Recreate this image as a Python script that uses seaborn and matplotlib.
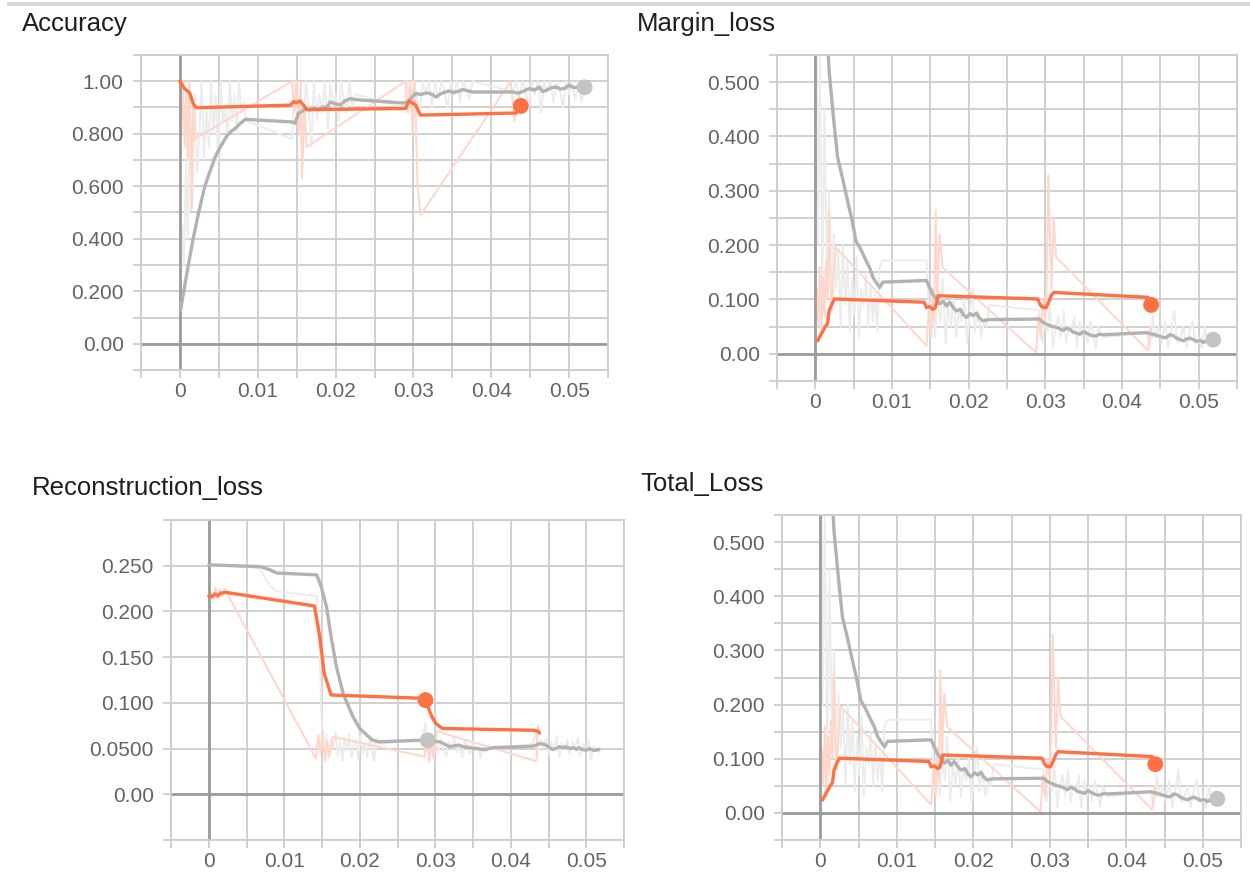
import matplotlib
matplotlib.use("Agg")
import numpy as np
import matplotlib.pyplot as plt
from matplotlib.patches import Rectangle
import seaborn as sns

sns.set_theme(style="white")
plt.rcParams["font.family"] = ["Liberation Sans", "DejaVu Sans"]

# ---------------------------------------------------------------- tick labels
x_tick_labels = ["", "0", "", "0.01", "", "0.02", "", "0.03", "", "0.04", "", "0.05", ""]
acc_ytick_labels = ["", "0.00", "", "0.200", "", "0.400", "", "0.600", "", "0.800", "", "1.00", ""]
loss_ytick_labels = ["", "0.00", "", "0.100", "", "0.200", "", "0.300", "", "0.400", "", "0.500", ""]
rec_ytick_labels = ["", "0.00", "0.0500", "0.100", "0.150", "0.200", "0.250", ""]
titles = ["Accuracy", "Margin_loss", "Reconstruction_loss", "Total_Loss"]

# ---------------------------------------------------------------- Accuracy
acc_gray_smooth_x = [0.0001, 0.0009, 0.0017, 0.0024, 0.0032, 0.0039, 0.0045, 0.0052, 0.0060, 0.0066,
                     0.0071, 0.0078, 0.0084, 0.0144, 0.0148, 0.0152, 0.0157, 0.0161, 0.0167, 0.0172,
                     0.0178, 0.0184, 0.0189, 0.0193, 0.0199, 0.0206, 0.0212, 0.0219, 0.0225, 0.0288,
                     0.0293, 0.0298, 0.0303, 0.0310, 0.0316, 0.0320, 0.0325, 0.0329, 0.0335, 0.0340,
                     0.0346, 0.0352, 0.0358, 0.0363, 0.0368, 0.0372, 0.0376, 0.0428, 0.0434, 0.0440,
                     0.0445, 0.0449, 0.0455, 0.0462, 0.0466, 0.0471, 0.0477, 0.0483, 0.0489, 0.0495,
                     0.0500, 0.0506, 0.0512, 0.0520]
acc_gray_smooth_y = [0.13, 0.27, 0.40, 0.50, 0.60, 0.66, 0.71, 0.75, 0.79, 0.81,
                     0.82, 0.84, 0.855, 0.845, 0.84, 0.877, 0.885, 0.896, 0.89, 0.898,
                     0.892, 0.902, 0.90, 0.921, 0.915, 0.91, 0.925, 0.934, 0.93, 0.917,
                     0.921, 0.94, 0.953, 0.95, 0.955, 0.955, 0.948, 0.94, 0.952, 0.958,
                     0.963, 0.957, 0.962, 0.968, 0.965, 0.962, 0.959, 0.959, 0.955, 0.96,
                     0.968, 0.972, 0.966, 0.978, 0.96, 0.966, 0.975, 0.978, 0.97, 0.974,
                     0.985, 0.976, 0.978, 0.977]
acc_orange_smooth_x = [0.0000, 0.0003, 0.0006, 0.0010, 0.0013, 0.0017, 0.0021, 0.0142, 0.0146, 0.0150,
                       0.0154, 0.0158, 0.0163, 0.0290, 0.0294, 0.0298, 0.0303, 0.0306, 0.0309, 0.0432]
acc_orange_smooth_y = [1.00, 0.985, 0.972, 0.962, 0.953, 0.915, 0.899, 0.909, 0.922, 0.918,
                       0.925, 0.912, 0.892, 0.896, 0.925, 0.918, 0.909, 0.89, 0.871, 0.879]
acc_orange_raw_x = [0.0000, 0.0002, 0.0004, 0.0006, 0.0008, 0.0010, 0.0012, 0.0014, 0.0015, 0.0017,
                    0.0019, 0.0144, 0.0147, 0.0150, 0.0153, 0.0155, 0.0157, 0.0160, 0.0163, 0.0290,
                    0.0293, 0.0296, 0.0299, 0.0302, 0.0305, 0.0309, 0.0425, 0.0430, 0.0436]
acc_orange_raw_y = [1.00, 0.80, 1.00, 0.75, 0.95, 0.70, 1.00, 0.80, 0.51, 0.90,
                    0.78, 1.00, 0.88, 1.00, 0.80, 1.00, 0.63, 0.90, 0.75, 1.00,
                    0.88, 1.00, 0.80, 1.00, 0.62, 0.49, 1.00, 0.85, 0.95]
acc_gray_raw_x = ([0.0000, 0.0003, 0.0005, 0.0008, 0.0010, 0.0013, 0.0016, 0.0019, 0.0022, 0.0025,
                   0.0028, 0.0031, 0.0034, 0.0037, 0.0040, 0.0043, 0.0046, 0.0049, 0.0052, 0.0055,
                   0.0058, 0.0061, 0.0064, 0.0067, 0.0070, 0.0073, 0.0076, 0.0079, 0.0082, 0.0085]
                  + [0.0144, 0.0148, 0.0151, 0.0155, 0.0158, 0.0162, 0.0165, 0.0169, 0.0172, 0.0176,
                     0.0179, 0.0183, 0.0186, 0.0190, 0.0193, 0.0197, 0.0200, 0.0204, 0.0207, 0.0211,
                     0.0214, 0.0218, 0.0221, 0.0225]
                  + [0.0288, 0.0292, 0.0296, 0.0300, 0.0304, 0.0308, 0.0312, 0.0316, 0.0320, 0.0324,
                     0.0328, 0.0332, 0.0336, 0.0340, 0.0344, 0.0348, 0.0352, 0.0356, 0.0360, 0.0364,
                     0.0368, 0.0372, 0.0376]
                  + [0.0428, 0.0432, 0.0436, 0.0440, 0.0444, 0.0448, 0.0452, 0.0456, 0.0460, 0.0464,
                     0.0468, 0.0472, 0.0476, 0.0480, 0.0484, 0.0488, 0.0492, 0.0496, 0.0500, 0.0504,
                     0.0508, 0.0512, 0.0516, 0.0520])
acc_gray_raw_y = ([0.13, 0.45, 0.30, 0.70, 0.40, 0.85, 0.55, 0.95, 0.65, 0.80,
                   1.00, 0.70, 0.90, 0.75, 1.00, 0.80, 0.95, 0.70, 1.00, 0.85,
                   0.90, 0.78, 1.00, 0.85, 0.95, 0.80, 1.00, 0.88, 0.92, 0.85]
                  + [0.78, 1.00, 0.85, 0.95, 0.80, 1.00, 0.90, 0.75, 1.00, 0.85,
                     0.95, 0.88, 1.00, 0.82, 1.00, 0.90, 0.95, 0.85, 1.00, 0.92,
                     0.88, 1.00, 0.90, 0.95]
                  + [0.90, 1.00, 0.92, 1.00, 0.95, 0.88, 1.00, 0.95, 1.00, 0.90,
                     1.00, 0.93, 1.00, 0.96, 0.90, 1.00, 0.95, 1.00, 0.92, 1.00,
                     0.97, 0.93, 1.00]
                  + [0.96, 1.00, 0.93, 1.00, 0.97, 0.90, 1.00, 0.95, 1.00, 0.88,
                     1.00, 0.96, 1.00, 0.92, 1.00, 0.97, 0.90, 1.00, 0.95, 1.00,
                     0.93, 1.00, 0.92, 0.98])
acc_dots_x = [0.0438, 0.0520]
acc_dots_y = [0.906, 0.977]

# ---------------------------------------------------------------- Margin loss
margin_gray_smooth_x = [0.0006, 0.0012, 0.0018, 0.0024, 0.0029, 0.0036, 0.0042, 0.0048, 0.0053, 0.0060,
                        0.0066, 0.0071, 0.0075, 0.0080, 0.0084, 0.0088, 0.0145, 0.0149, 0.0153, 0.0158,
                        0.0162, 0.0167, 0.0171, 0.0175, 0.0180, 0.0184, 0.0189, 0.0193, 0.0197, 0.0202,
                        0.0206, 0.0210, 0.0214, 0.0218, 0.0222, 0.0227, 0.0292, 0.0297, 0.0301, 0.0306,
                        0.0310, 0.0314, 0.0319, 0.0323, 0.0327, 0.0332, 0.0336, 0.0341, 0.0345, 0.0350,
                        0.0354, 0.0358, 0.0362, 0.0366, 0.0371, 0.0375, 0.0432, 0.0437, 0.0441, 0.0445,
                        0.0450, 0.0454, 0.0458, 0.0462, 0.0466, 0.0471, 0.0476, 0.0480, 0.0484, 0.0489,
                        0.0493, 0.0497, 0.0502, 0.0506, 0.0510, 0.0514, 0.0519]
margin_gray_smooth_y = [0.9, 0.68, 0.52, 0.43, 0.362, 0.32, 0.282, 0.245, 0.208, 0.19,
                        0.172, 0.158, 0.141, 0.13, 0.122, 0.132, 0.135, 0.122, 0.11, 0.10,
                        0.092, 0.097, 0.088, 0.095, 0.085, 0.079, 0.082, 0.072, 0.067, 0.074,
                        0.07, 0.075, 0.066, 0.061, 0.062, 0.063, 0.064, 0.058, 0.055, 0.052,
                        0.05, 0.049, 0.046, 0.043, 0.047, 0.045, 0.04, 0.038, 0.036, 0.041,
                        0.038, 0.035, 0.033, 0.033, 0.036, 0.035, 0.039, 0.037, 0.036, 0.034,
                        0.032, 0.03, 0.03, 0.035, 0.034, 0.029, 0.026, 0.024, 0.027, 0.029,
                        0.026, 0.023, 0.025, 0.021, 0.024, 0.022, 0.026]
margin_orange_smooth_x = [0.0003, 0.0007, 0.0010, 0.0013, 0.0016, 0.0018, 0.0021, 0.0025, 0.0142, 0.0145,
                          0.0149, 0.0153, 0.0156, 0.0158, 0.0160, 0.0290, 0.0293, 0.0296, 0.0301, 0.0305,
                          0.0308, 0.0311, 0.0434]
margin_orange_smooth_y = [0.024, 0.035, 0.042, 0.05, 0.056, 0.079, 0.09, 0.101, 0.095, 0.085,
                          0.087, 0.082, 0.084, 0.092, 0.107, 0.101, 0.091, 0.086, 0.085, 0.097,
                          0.108, 0.113, 0.104]
margin_orange_raw_x = [0.0000, 0.0002, 0.0004, 0.0006, 0.0008, 0.0010, 0.0012, 0.0014, 0.0016, 0.0018,
                       0.0020, 0.0022, 0.0024, 0.0027,
                       0.0145, 0.0148, 0.0151, 0.0153, 0.0155, 0.0157, 0.0159, 0.0162, 0.0166,
                       0.0288, 0.0291, 0.0294, 0.0297, 0.0300, 0.0302, 0.0304, 0.0306, 0.0308, 0.0311,
                       0.0314, 0.0434, 0.0437, 0.0440]
margin_orange_raw_y = [0.02, 0.12, 0.05, 0.16, 0.03, 0.14, 0.07, 0.17, 0.10, 0.26,
                       0.12, 0.08, 0.15, 0.196,
                       0.015, 0.08, 0.03, 0.12, 0.06, 0.264, 0.10, 0.22, 0.159,
                       0.002, 0.07, 0.03, 0.10, 0.06, 0.15, 0.33, 0.22, 0.12, 0.25,
                       0.178, 0.006, 0.05, 0.03]
margin_gray_raw_x = ([0.0000, 0.0003, 0.0006, 0.0009, 0.0012, 0.0015, 0.0018, 0.0021, 0.0024, 0.0027,
                      0.0030, 0.0033, 0.0036, 0.0039, 0.0042, 0.0045, 0.0048, 0.0051, 0.0054, 0.0057,
                      0.0060, 0.0063, 0.0066, 0.0069, 0.0072, 0.0075, 0.0078, 0.0081, 0.0084, 0.0088]
                     + [0.0145, 0.0149, 0.0152, 0.0156, 0.0159, 0.0163, 0.0166, 0.0170, 0.0173, 0.0177,
                        0.0180, 0.0184, 0.0187, 0.0191, 0.0194, 0.0198, 0.0201, 0.0205, 0.0208, 0.0212,
                        0.0216, 0.0220, 0.0223, 0.0227]
                     + [0.0292, 0.0296, 0.0299, 0.0303, 0.0306, 0.0310, 0.0313, 0.0317, 0.0320, 0.0324,
                        0.0327, 0.0331, 0.0334, 0.0338, 0.0341, 0.0345, 0.0348, 0.0352, 0.0355, 0.0359,
                        0.0362, 0.0366, 0.0369, 0.0375]
                     + [0.0432, 0.0436, 0.0440, 0.0444, 0.0448, 0.0452, 0.0456, 0.0460, 0.0464, 0.0468,
                        0.0472, 0.0476, 0.0480, 0.0484, 0.0488, 0.0492, 0.0496, 0.0500, 0.0504, 0.0508,
                        0.0512, 0.0516, 0.0519])
margin_gray_raw_y = ([1.00, 0.20, 0.55, 0.10, 0.45, 0.15, 0.30, 0.08, 0.22, 0.12,
                      0.19, 0.05, 0.20, 0.09, 0.17, 0.04, 0.14, 0.07, 0.18, 0.03,
                      0.12, 0.09, 0.15, 0.05, 0.13, 0.06, 0.11, 0.04, 0.16, 0.172]
                     + [0.172, 0.05, 0.12, 0.03, 0.10, 0.06, 0.14, 0.02, 0.09, 0.05,
                        0.11, 0.03, 0.08, 0.06, 0.10, 0.02, 0.07, 0.12, 0.04, 0.08,
                        0.03, 0.06, 0.05, 0.09]
                     + [0.08, 0.02, 0.06, 0.04, 0.09, 0.01, 0.05, 0.07, 0.03, 0.08,
                        0.02, 0.05, 0.04, 0.07, 0.01, 0.06, 0.03, 0.05, 0.02, 0.06,
                        0.04, 0.01, 0.05, 0.03]
                     + [0.04, 0.01, 0.07, 0.03, 0.05, 0.02, 0.06, 0.01, 0.04, 0.08,
                        0.02, 0.03, 0.05, 0.01, 0.04, 0.06, 0.02, 0.03, 0.01, 0.05,
                        0.02, 0.04, 0.03])
margin_dots_x = [0.0438, 0.0519]
margin_dots_y = [0.090, 0.026]

# ---------------------------------------------------------------- Total loss (reads the same as margin loss)
total_gray_smooth_x, total_gray_smooth_y = list(margin_gray_smooth_x), list(margin_gray_smooth_y)
total_orange_smooth_x, total_orange_smooth_y = list(margin_orange_smooth_x), list(margin_orange_smooth_y)
total_orange_raw_x, total_orange_raw_y = list(margin_orange_raw_x), list(margin_orange_raw_y)
total_gray_raw_x, total_gray_raw_y = list(margin_gray_raw_x), list(margin_gray_raw_y)
total_dots_x = [0.0438, 0.0519]
total_dots_y = [0.090, 0.026]

# ---------------------------------------------------------------- Reconstruction loss
rec_gray_smooth_x = [0.0000, 0.0068, 0.0081, 0.0090, 0.0143, 0.0149, 0.0156, 0.0162, 0.0169, 0.0178,
                     0.0191, 0.0200, 0.0209, 0.0217, 0.0226, 0.0283, 0.0290, 0.0298, 0.0306, 0.0312,
                     0.0319, 0.0325, 0.0331, 0.0338, 0.0344, 0.0350, 0.0356, 0.0362, 0.0367, 0.0376,
                     0.0429, 0.0434, 0.0438, 0.0442, 0.0446, 0.0450, 0.0455, 0.0460, 0.0464, 0.0469,
                     0.0474, 0.0478, 0.0483, 0.0487, 0.0490, 0.0495, 0.0500, 0.0504, 0.0510, 0.0517]
rec_gray_smooth_y = [0.251, 0.249, 0.2456, 0.242, 0.240, 0.227, 0.205, 0.1725, 0.140, 0.110,
                     0.0848, 0.072, 0.065, 0.0592, 0.0574, 0.0592, 0.059, 0.058, 0.0574, 0.055,
                     0.0519, 0.053, 0.0537, 0.052, 0.0512, 0.0505, 0.050, 0.049, 0.049, 0.051,
                     0.0526, 0.054, 0.0556, 0.055, 0.054, 0.052, 0.049, 0.050, 0.052, 0.051,
                     0.052, 0.050, 0.051, 0.049, 0.051, 0.049, 0.0482, 0.050, 0.048, 0.049]
rec_orange_smooth_x = [0.0000, 0.0004, 0.0008, 0.0012, 0.0016, 0.0023, 0.0140, 0.0147, 0.0153, 0.0162,
                       0.0283, 0.0287, 0.0292, 0.0296, 0.0301, 0.0306, 0.0310, 0.0431, 0.0436, 0.0438]
rec_orange_smooth_y = [0.217, 0.216, 0.219, 0.217, 0.220, 0.2208, 0.206, 0.1725, 0.132, 0.1086,
                       0.105, 0.103, 0.092, 0.084, 0.0775, 0.074, 0.072, 0.070, 0.069, 0.067]
rec_orange_raw_x = [0.0000, 0.0003, 0.0006, 0.0009, 0.0012, 0.0015, 0.0018, 0.0021, 0.0023, 0.0142,
                    0.0145, 0.0148, 0.0151, 0.0154, 0.0157, 0.0160, 0.0164, 0.0286, 0.0289, 0.0292,
                    0.0295, 0.0298, 0.0302, 0.0434, 0.0436, 0.0438]
rec_orange_raw_y = [0.217, 0.222, 0.212, 0.226, 0.214, 0.224, 0.216, 0.225, 0.222, 0.039,
                    0.065, 0.045, 0.07, 0.036, 0.058, 0.042, 0.063, 0.041, 0.06, 0.035,
                    0.062, 0.038, 0.069, 0.036, 0.075, 0.068]
rec_gray_raw_x = ([0.0000, 0.0020, 0.0040, 0.0060, 0.0068, 0.0081, 0.0090, 0.0143, 0.0147, 0.0150,
                   0.0153, 0.0156, 0.0159, 0.0162, 0.0165, 0.0168, 0.0171, 0.0174, 0.0177, 0.0180,
                   0.0183, 0.0186, 0.0189, 0.0192, 0.0195, 0.0198, 0.0201, 0.0204, 0.0207, 0.0210,
                   0.0213, 0.0216, 0.0219, 0.0222, 0.0226]
                  + [0.0283, 0.0287, 0.0290, 0.0294, 0.0297, 0.0301, 0.0304, 0.0308, 0.0311, 0.0315,
                     0.0318, 0.0322, 0.0325, 0.0329, 0.0332, 0.0336, 0.0339, 0.0343, 0.0346, 0.0350,
                     0.0353, 0.0357, 0.0360, 0.0364, 0.0367, 0.0371, 0.0376]
                  + [0.0429, 0.0433, 0.0436, 0.0440, 0.0443, 0.0447, 0.0450, 0.0454, 0.0457, 0.0461,
                     0.0464, 0.0468, 0.0471, 0.0475, 0.0478, 0.0482, 0.0485, 0.0489, 0.0492, 0.0496,
                     0.0499, 0.0503, 0.0506, 0.0510, 0.0513, 0.0517])
rec_gray_raw_y = ([0.250, 0.250, 0.249, 0.248, 0.246, 0.228, 0.222, 0.217, 0.15, 0.07,
                   0.045, 0.065, 0.04, 0.06, 0.05, 0.068, 0.042, 0.058, 0.036, 0.062,
                   0.048, 0.066, 0.04, 0.055, 0.06, 0.038, 0.064, 0.045, 0.058, 0.04,
                   0.062, 0.05, 0.036, 0.06, 0.055]
                  + [0.06, 0.078, 0.05, 0.062, 0.04, 0.058, 0.045, 0.06, 0.048, 0.042,
                     0.058, 0.05, 0.062, 0.046, 0.055, 0.04, 0.06, 0.05, 0.044, 0.058,
                     0.048, 0.052, 0.04, 0.056, 0.046, 0.054, 0.05]
                  + [0.055, 0.068, 0.045, 0.06, 0.05, 0.062, 0.042, 0.058, 0.048, 0.064,
                     0.04, 0.056, 0.05, 0.06, 0.044, 0.058, 0.05, 0.062, 0.042, 0.055,
                     0.048, 0.06, 0.038, 0.052, 0.05, 0.046])
rec_dots_x = [0.0287, 0.0290]
rec_dots_y = [0.103, 0.059]

# ---------------------------------------------------------------- styling
ORANGE = "#ff7043"
ORANGE_RAW = "#ffd6c9"
GRAY = "#b2b2b2"
GRAY_RAW = "#ececec"
DOT_GRAY = "#c4c4c4"
GRID = "#cdcdcd"
ZERO = "#9c9c9c"
LABEL = "#636363"

W, H = 1250, 882
fig = plt.figure(figsize=(W / 100, H / 100), dpi=100)
fig.patch.set_facecolor("white")
fig.add_artist(Rectangle((7 / W, 1 - 6 / H), 1, 4 / H, transform=fig.transFigure,
                         color="#d9d9d9", lw=0))


def box(l, t, r, b):
    return fig.add_axes([l / W, 1 - b / H, (r - l) / W, (b - t) / H])


def panel(ax, ylim, n_y, ylabels, gray_raw, orange_raw, gray_s, orange_s, dots):
    ax.set_facecolor("white")
    ax.set_xlim(-0.005, 0.055)
    ax.set_ylim(*ylim)
    ax.set_xticks(np.linspace(-0.005, 0.055, 13))
    ax.set_xticklabels(x_tick_labels)
    ax.set_yticks(np.linspace(ylim[0], ylim[1], n_y))
    ax.set_yticklabels(ylabels)
    ax.grid(True, color=GRID, lw=1.3, zorder=0)
    ax.set_axisbelow(True)
    for s in ax.spines.values():
        s.set_color(GRID)
        s.set_linewidth(1.3)
    ax.tick_params(axis="both", length=5.5, width=1.3, color=GRID, labelcolor=LABEL,
                   labelsize=15, bottom=True, left=True)
    ax.tick_params(axis="x", pad=3.0)
    ax.tick_params(axis="y", pad=7.0)
    ax.axhline(0, color=ZERO, lw=2.0, zorder=1.5)
    ax.axvline(0, color=ZERO, lw=2.0, zorder=1.5)
    sns.lineplot(x=gray_raw[0], y=gray_raw[1], ax=ax, color=GRAY_RAW, lw=1.4,
                 sort=False, estimator=None, errorbar=None, legend=False, zorder=1)
    sns.lineplot(x=orange_raw[0], y=orange_raw[1], ax=ax, color=ORANGE_RAW, lw=1.4,
                 sort=False, estimator=None, errorbar=None, legend=False, zorder=1.2)
    sns.lineplot(x=gray_s[0], y=gray_s[1], ax=ax, color=GRAY, lw=2.4,
                 sort=False, estimator=None, errorbar=None, legend=False, zorder=2)
    sns.lineplot(x=orange_s[0], y=orange_s[1], ax=ax, color=ORANGE, lw=2.4,
                 sort=False, estimator=None, errorbar=None, legend=False, zorder=3)
    sns.scatterplot(x=dots[0], y=dots[1], ax=ax, hue=["o", "g"],
                    palette={"o": ORANGE, "g": DOT_GRAY}, s=130, edgecolor="none",
                    legend=False, zorder=4)
    ax.set_xlabel("")
    ax.set_ylabel("")


ax1 = box(141, 55, 608, 370)
panel(ax1, (-0.1, 1.1), 13, acc_ytick_labels,
      (acc_gray_raw_x, acc_gray_raw_y), (acc_orange_raw_x, acc_orange_raw_y),
      (acc_gray_smooth_x, acc_gray_smooth_y), (acc_orange_smooth_x, acc_orange_smooth_y),
      (acc_dots_x, acc_dots_y))

ax2 = box(777, 55, 1237, 381)
panel(ax2, (-0.05, 0.55), 13, loss_ytick_labels,
      (margin_gray_raw_x, margin_gray_raw_y), (margin_orange_raw_x, margin_orange_raw_y),
      (margin_gray_smooth_x, margin_gray_smooth_y), (margin_orange_smooth_x, margin_orange_smooth_y),
      (margin_dots_x, margin_dots_y))

ax3 = box(171, 520, 624, 840)
panel(ax3, (-0.05, 0.30), 8, rec_ytick_labels,
      (rec_gray_raw_x, rec_gray_raw_y), (rec_orange_raw_x, rec_orange_raw_y),
      (rec_gray_smooth_x, rec_gray_smooth_y), (rec_orange_smooth_x, rec_orange_smooth_y),
      (rec_dots_x, rec_dots_y))

ax4 = box(782, 515, 1241, 840)
panel(ax4, (-0.05, 0.55), 13, loss_ytick_labels,
      (total_gray_raw_x, total_gray_raw_y), (total_orange_raw_x, total_orange_raw_y),
      (total_gray_smooth_x, total_gray_smooth_y), (total_orange_smooth_x, total_orange_smooth_y),
      (total_dots_x, total_dots_y))

title_pos = [(22, 31), (637, 31), (32, 495), (640, 491)]
for t, (px, py) in zip(titles, title_pos):
    fig.text(px / W, 1 - py / H, t, fontsize=18.5, color="#1e1e1e", va="baseline", ha="left")

fig.savefig("out.png", dpi=100, facecolor="white")
